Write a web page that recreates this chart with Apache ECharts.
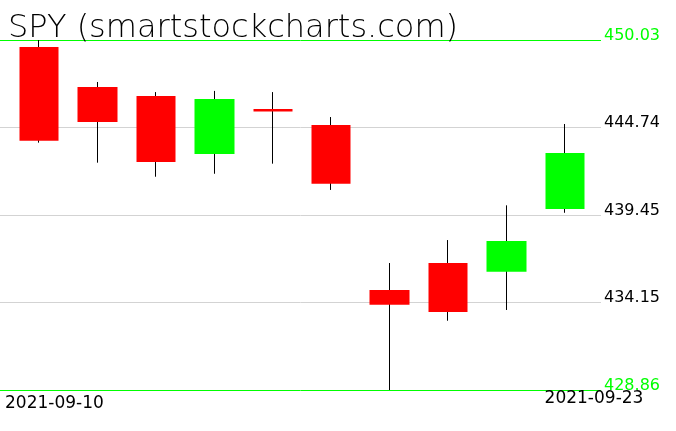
<!DOCTYPE html>
<html><head><meta charset="utf-8">
<script src="https://cdn.jsdelivr.net/npm/echarts@6/dist/echarts.min.js"></script>
<style>html,body{margin:0;padding:0;background:#fff}#c{width:676px;height:431px}</style>
</head><body><div id="c"></div>
<script>
const dates = ['2021-09-10','2021-09-13','2021-09-14','2021-09-15','2021-09-16','2021-09-17','2021-09-20','2021-09-21','2021-09-22','2021-09-23'];
const opens  = [449.61,447.19,446.64,443.13,445.86,444.89,434.91,436.54,436.01,439.81];
const closes = [443.94,445.07,442.65,446.46,445.71,441.34,434.02,433.58,437.87,443.20];
const highs  = [450.03,447.49,446.88,446.95,446.88,445.37,436.54,437.93,440.03,444.95];
const lows   = [443.82,442.61,441.76,441.94,442.55,440.96,428.86,433.05,433.70,439.58];
const yTicks = [428.86,434.15,439.45,444.74,450.03];
const xTickLabels = ['2021-09-10','2021-09-23'];
const titleText = 'SPY (smartstockcharts.com)';

const FONT = 'DejaVu Sans';
const yMin = yTicks[0], yMax = yTicks[yTicks.length-1];
const chart = echarts.init(document.getElementById('c'));
const option = {
  animation: false,
  backgroundColor: '#fff',
  title: {text: titleText, left: 3, top: 8, textStyle: {fontFamily: FONT, fontSize: 32, fontWeight: 'lighter', color: '#000'}},
  grid: [
    {left: 0, right: 75, top: 40, bottom: 41},
    {left: 10, right: 82, top: 40, bottom: 41}
  ],
  xAxis: [
    {type: 'category', gridIndex: 0, data: xTickLabels, boundaryGap: false,
     axisLine: {show: false}, axisTick: {show: false}, splitLine: {show: false},
     axisLabel: {show: true, interval: 0, margin: 0, alignMinLabel: 'left', alignMaxLabel: 'center',
       fontFamily: FONT, fontSize: 17, color: '#000',
       formatter: (v, i) => (i === 0 ? '{a|' + v + '}' : '{b|' + v + '}'),
       rich: {a: {fontFamily: FONT, fontSize: 17, color: '#000', padding: [5, 0, 0, 5]},
              b: {fontFamily: FONT, fontSize: 17, color: '#000', padding: [0, 14, 0, 0]}}}},
    {type: 'category', gridIndex: 1, data: dates, show: false}
  ],
  yAxis: [
    {type: 'value', gridIndex: 0, position: 'right', min: yMin, max: yMax,
     axisLine: {show: false}, axisTick: {show: false, customValues: yTicks},
     splitLine: {show: true, lineStyle: {color: ['#00ff00', '#d3d3d3', '#d3d3d3', '#d3d3d3', '#00ff00'], width: 1}},
     axisLabel: {customValues: yTicks, margin: 3, fontFamily: FONT, fontSize: 16, verticalAlign: 'bottom', lineHeight: 9,
       formatter: v => v.toFixed(2),
       color: v => (Math.abs(v - yMin) < 1e-6 || Math.abs(v - yMax) < 1e-6) ? '#00ff00' : '#000'}},
    {type: 'value', gridIndex: 1, min: yMin, max: yMax, show: false}
  ],
  series: [
    {type: 'candlestick', xAxisIndex: 1, yAxisIndex: 1, barWidth: 1, silent: true,
     data: dates.map((d, i) => [opens[i], closes[i], lows[i], highs[i]]),
     itemStyle: {color: '#000', color0: '#000', borderColor: '#000', borderColor0: '#000', borderWidth: 1}},
    {type: 'candlestick', xAxisIndex: 1, yAxisIndex: 1, barWidth: 40, silent: true,
     data: dates.map((d, i) => [opens[i], closes[i], Math.min(opens[i], closes[i]), Math.max(opens[i], closes[i])]),
     itemStyle: {color: '#00ff00', color0: '#ff0000', borderColor: '#00ff00', borderColor0: '#ff0000', borderWidth: 0}}
  ]
};
chart.setOption(option);
</script></body></html>
